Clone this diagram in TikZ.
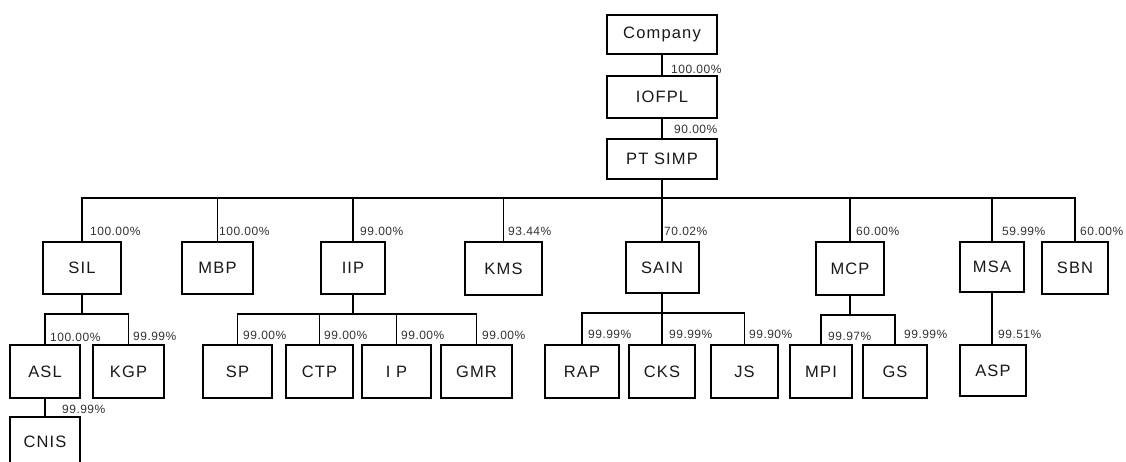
\documentclass[tikz,border=0pt]{standalone}
\usepackage{fontspec}
\setmainfont{Liberation Sans}
\begin{document}
\begin{tikzpicture}[x=1pt,y=-1pt,
  box/.style={draw=black, line width=2pt, inner sep=0pt, fill=white,
    font=\fontsize{16.5}{19}\selectfont\addfontfeature{LetterSpace=7}, text=black!90},
  pct/.style={inner sep=0pt, anchor=west, font=\fontsize{12}{14}\selectfont\addfontfeature{LetterSpace=4}, text=black!80},
  conn/.style={line width=1.5pt},
  trunk/.style={line width=2.8pt}]
\useasboundingbox (0,0) rectangle (1126,462);
% top chain
\node[box, minimum width=110, minimum height=39] (Company) at (662,34.5) {Company};
\node[box, minimum width=110, minimum height=42] (IOFPL) at (662,97) {IOFPL};
\node[box, minimum width=110, minimum height=40] (PTSIMP) at (662,159) {PT SIMP};
% level 1
\node[box, minimum width=78, minimum height=52] (SIL) at (82,268) {SIL};
\node[box, minimum width=71, minimum height=52] (MBP) at (217.5,268) {MBP};
\node[box, minimum width=64, minimum height=52] (IIP) at (353,268) {IIP};
\node[box, minimum width=77, minimum height=53] (KMS) at (503.5,268.5) {KMS};
\node[box, minimum width=73, minimum height=51] (SAIN) at (662,267.5) {SAIN};
\node[box, minimum width=68, minimum height=53] (MCP) at (850,268.5) {MCP};
\node[box, minimum width=64, minimum height=50] (MSA) at (992,267) {MSA};
\node[box, minimum width=66, minimum height=52] (SBN) at (1075,268) {SBN};
% level 2
\node[box, minimum width=70, minimum height=53] (ASL) at (45,371.5) {ASL};
\node[box, minimum width=71, minimum height=53] (KGP) at (128.5,371.5) {KGP};
\node[box, minimum width=69, minimum height=53] (SP) at (237.5,371.5) {SP};
\node[box, minimum width=67, minimum height=53] (CTP) at (319.5,371.5) {CTP};
\node[box, minimum width=69, minimum height=53] (IP) at (396.5,371.5) {I P};
\node[box, minimum width=71, minimum height=53] (GMR) at (476.5,371.5) {GMR};
\node[box, minimum width=74, minimum height=53] (RAP) at (582,371.5) {RAP};
\node[box, minimum width=66, minimum height=53] (CKS) at (662,371.5) {CKS};
\node[box, minimum width=67, minimum height=53] (JS) at (744.5,371.5) {JS};
\node[box, minimum width=62, minimum height=53] (MPI) at (821,371.5) {MPI};
\node[box, minimum width=64, minimum height=53] (GS) at (895,371.5) {GS};
\node[box, minimum width=66, minimum height=51] (ASP) at (993,370.5) {ASP};
% level 3 (cut off at the bottom edge)
\node[box, minimum width=70, minimum height=56] (CNIS) at (45,445) {};
\node[font=\fontsize{16.5}{19}\selectfont\addfontfeature{LetterSpace=7}, text=black!90, inner sep=0pt] (CNIST) at (45,442) {CNIS};
% connectors
\draw[conn] (Company.south) -- (IOFPL.north);
\draw[conn] (IOFPL.south) -- (PTSIMP.north);
\coordinate (b1) at (662,198);
\draw[trunk] (PTSIMP.south) -- (b1);
\foreach \n in {SIL,MBP,IIP,KMS,SAIN,MCP,MSA,SBN} \draw[conn] (b1) -| (\n.north);
% SIL group
\path (SIL.south) ++(0,19) coordinate (b2);
\draw[trunk] (SIL.south) -- (b2);
\foreach \n in {ASL,KGP} \draw[conn] (b2) -| (\n.north);
\draw[conn] (ASL.south) -- (CNIS.north);
% IIP group
\path (IIP.south) ++(0,19) coordinate (b3);
\draw[trunk] (IIP.south) -- (b3);
\foreach \n in {SP,CTP,IP,GMR} \draw[conn] (b3) -| (\n.north);
% SAIN group
\path (SAIN.south) ++(0,19) coordinate (b4);
\draw[trunk] (SAIN.south) -- (b4);
\foreach \n in {RAP,CKS,JS} \draw[conn] (b4) -| (\n.north);
% MCP group
\path (MCP.south) ++(0,19) coordinate (b5);
\draw[trunk] (MCP.south) -- (b5);
\foreach \n in {MPI,GS} \draw[conn] (b5) -| (\n.north);
% MSA
\draw[conn] (MSA.south) -- (MSA.south |- ASP.north);
% percentages
\node[pct] (p1) at (671,69) {100.00\%};
\node[pct] (p2) at (674,129) {90.00\%};
\node[pct] (pSIL) at (90,231) {100.00\%};
\node[pct] (pMBP) at (219,231) {100.00\%};
\node[pct] (pIIP) at (360,231) {99.00\%};
\node[pct] (pKMS) at (508,231) {93.44\%};
\node[pct] (pSAIN) at (664,231) {70.02\%};
\node[pct] (pMCP) at (856,231) {60.00\%};
\node[pct] (pMSA) at (1002,231) {59.99\%};
\node[pct] (pSBN) at (1080,231) {60.00\%};
\node[pct] (pASL) at (50,337) {100.00\%};
\node[pct] (pKGP) at (133,336) {99.99\%};
\node[pct] (pCNIS) at (62,409) {99.99\%};
\node[pct] (pSP) at (243,335) {99.00\%};
\node[pct] (pCTP) at (324,335) {99.00\%};
\node[pct] (pIP) at (401,335) {99.00\%};
\node[pct] (pGMR) at (482,335) {99.00\%};
\node[pct] (pRAP) at (588,334) {99.99\%};
\node[pct] (pCKS) at (669,334) {99.99\%};
\node[pct] (pJS) at (749,334) {99.90\%};
\node[pct] (pMPI) at (828,336) {99.97\%};
\node[pct] (pGS) at (904,334) {99.99\%};
\node[pct] (pASP) at (998,334) {99.51\%};
\end{tikzpicture}
\end{document}
